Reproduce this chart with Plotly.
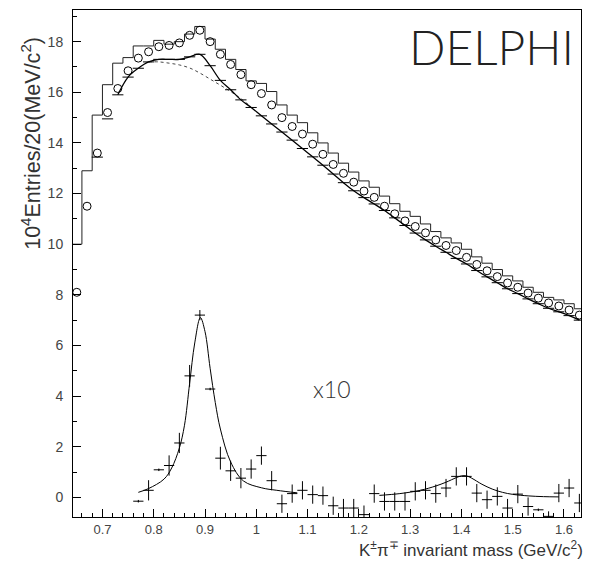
import numpy as np
import plotly.graph_objects as go

# ---------------- data ----------------
bin_centers = [0.65, 0.67, 0.69, 0.71, 0.73, 0.75, 0.77, 0.79, 0.81, 0.83,
               0.85, 0.87, 0.89, 0.91, 0.93, 0.95, 0.97, 0.99, 1.01, 1.03,
               1.05, 1.07, 1.09, 1.11, 1.13, 1.15, 1.17, 1.19, 1.21, 1.23,
               1.25, 1.27, 1.29, 1.31, 1.33, 1.35, 1.37, 1.39, 1.41, 1.43,
               1.45, 1.47, 1.49, 1.51, 1.53, 1.55, 1.57, 1.59, 1.61, 1.63]

data_circles = [8.1, 11.5, 13.6, 15.2, 16.15, 16.85, 17.35, 17.6, 17.8, 17.85,
                17.95, 18.25, 18.45, 18.0, 17.5, 17.1, 16.7, 16.3, 15.95, 15.5,
                15.0, 14.65, 14.35, 13.95, 13.55, 13.15, 12.8, 12.45, 12.1, 11.85,
                11.5, 11.2, 10.92, 10.7, 10.45, 10.17, 9.95, 9.75, 9.48, 9.2,
                8.95, 8.72, 8.47, 8.3, 8.07, 7.87, 7.68, 7.56, 7.4, 7.2]

mc_hist = [10.0, 12.9, 15.1, 16.3, 17.15, 17.37, 17.83, 17.83, 18.05, 17.9,
           18.0, 18.3, 18.6, 18.1, 17.7, 17.3, 16.9, 16.45, 16.35, 16.03,
           15.5, 15.1, 14.8, 14.4, 14.0, 13.6, 13.2, 12.85, 12.5, 12.25,
           11.9, 11.6, 11.3, 11.1, 10.8, 10.5, 10.25, 10.05, 9.8, 9.5,
           9.25, 9.0, 8.75, 8.55, 8.3, 8.1, 7.9, 7.8, 7.65, 7.45]

total_x = [0.69, 0.71, 0.73, 0.75, 0.77, 0.79, 0.81, 0.83, 0.85, 0.87,
           0.89, 0.91, 0.93, 0.95, 0.97, 0.99, 1.01, 1.03, 1.05, 1.07,
           1.09, 1.11, 1.13, 1.15, 1.17, 1.19, 1.21, 1.23, 1.25, 1.27,
           1.29, 1.31, 1.33, 1.35, 1.37, 1.39, 1.41, 1.43, 1.45, 1.47,
           1.49, 1.51, 1.53, 1.55, 1.57, 1.59, 1.61, 1.63]
total_y = [13.44, 14.95, 15.9, 16.6, 16.95, 17.2, 17.3, 17.3, 17.3, 17.4,
           17.5, 17.05, 16.47, 16.1, 15.7, 15.4, 15.07, 14.75, 14.43, 14.11,
           13.78, 13.45, 13.12, 12.77, 12.43, 12.11, 11.84, 11.59, 11.33, 11.04,
           10.74, 10.44, 10.17, 9.92, 9.68, 9.44, 9.22, 8.96, 8.71, 8.48,
           8.24, 8.05, 7.84, 7.65, 7.47, 7.33, 7.18, 7.0]

bkg_x = [0.79, 0.81, 0.83, 0.85, 0.87, 0.89, 0.91, 0.93, 0.95, 0.97, 0.99]
bkg_y = [17.2, 17.2, 17.15, 17.08, 16.96, 16.76, 16.52, 16.28, 16.03, 15.75, 15.42]

sig_x = [0.77, 0.79, 0.81, 0.83, 0.85, 0.87, 0.89, 0.91, 0.93, 0.95,
         0.97, 0.99, 1.01, 1.03, 1.05, 1.07, 1.09, 1.11, 1.13, 1.15,
         1.17, 1.19, 1.21, 1.23, 1.25, 1.27, 1.29, 1.31, 1.33, 1.35,
         1.37, 1.39, 1.41, 1.43, 1.45, 1.47, 1.49, 1.51, 1.53, 1.55,
         1.57, 1.59, 1.61, 1.63]
sig_y = [-0.15, 0.28, 1.09, 1.26, 2.15, 4.8, 7.2, 4.28, 1.55, 1.05,
         0.76, 1.12, 1.65, 0.66, -0.25, 0.15, 0.28, 0.11, 0.07, -0.33,
         -0.42, -0.42, -0.68, 0.15, -0.16, -0.16, -0.16, 0.24, 0.28, 0.15,
         0.37, 0.83, 0.83, 0.17, -0.09, 0.04, -0.42, 0.13, -0.36, -0.49,
         -0.75, 0.17, 0.37, -0.22]
sig_err = [0.05, 0.4, 0.05, 0.4, 0.4, 0.43, 0.2, 0.05, 0.45, 0.4,
           0.4, 0.38, 0.36, 0.38, 0.36, 0.36, 0.36, 0.36, 0.36, 0.36,
           0.36, 0.36, 0.36, 0.36, 0.36, 0.36, 0.36, 0.36, 0.36, 0.36,
           0.36, 0.36, 0.36, 0.36, 0.36, 0.36, 0.36, 0.36, 0.36, 0.05,
           0.2, 0.36, 0.36, 0.36]

bw1_x = [0.77, 0.79, 0.82, 0.835, 0.85, 0.86, 0.87, 0.88, 0.891, 0.90,
         0.91, 0.92, 0.93, 0.95, 0.975, 1.01, 1.04, 1.08]
bw1_y = [0.2, 0.35, 0.72, 1.16, 1.95, 2.85, 4.5, 6.1, 7.1, 6.55,
         5.1, 3.75, 2.7, 1.4, 0.65, 0.38, 0.28, 0.18]

bw2_x = [1.24, 1.28, 1.32, 1.35, 1.37, 1.39, 1.40, 1.41, 1.42, 1.44,
         1.46, 1.48, 1.50, 1.53, 1.56, 1.59]
bw2_y = [0.08, 0.15, 0.28, 0.45, 0.6, 0.78, 0.85, 0.85, 0.76, 0.52,
         0.33, 0.2, 0.12, 0.06, 0.03, 0.02]

x_ticks = [0.7, 0.8, 0.9, 1.0, 1.1, 1.2, 1.3, 1.4, 1.5, 1.6]
x_tick_labels = ["0.7", "0.8", "0.9", "1", "1.1", "1.2", "1.3", "1.4", "1.5", "1.6"]
y_ticks = [0, 2, 4, 6, 8, 10, 12, 14, 16, 18]

# ---------------- figure ----------------
fig = go.Figure()

# stepped histogram (bin edges derived from centres)
centers = np.array(bin_centers)
edges = np.append(centers - 0.01, centers[-1] + 0.01)
hist_vals = np.append(np.array(mc_hist), mc_hist[-1])
fig.add_trace(go.Scatter(x=edges, y=hist_vals, mode="lines", line_shape="hv",
                         line=dict(color="#222", width=1), hoverinfo="skip"))

# background (dashed)
fig.add_trace(go.Scatter(x=bkg_x, y=bkg_y, mode="lines",
                         line=dict(color="#333", width=0.9, dash="3px,3px"),
                         line_shape="spline"))

# total curve with tick marks
fig.add_trace(go.Scatter(x=total_x[2:], y=total_y[2:], mode="lines",
                         line=dict(color="black", width=1.3), line_shape="spline"))
fig.add_trace(go.Scatter(x=total_x, y=total_y, mode="markers",
                         marker=dict(symbol="line-ew", size=8,
                                     line=dict(color="black", width=1))))

# data circles
fig.add_trace(go.Scatter(x=bin_centers, y=data_circles, mode="markers",
                         marker=dict(symbol="circle-open", size=8,
                                     color="black", line=dict(width=1))))

# signal x10 crosses
fig.add_trace(go.Scatter(x=sig_x, y=sig_y, mode="markers",
                         marker=dict(size=1, color="black"),
                         error_x=dict(type="constant", value=0.01, width=0,
                                      color="black", thickness=1),
                         error_y=dict(type="data", array=sig_err, width=0,
                                      color="black", thickness=1)))

# fitted resonance curves
fig.add_trace(go.Scatter(x=bw1_x, y=bw1_y, mode="lines", line_shape="spline",
                         line=dict(color="black", width=1)))
fig.add_trace(go.Scatter(x=bw2_x, y=bw2_y, mode="lines", line_shape="spline",
                         line=dict(color="black", width=1)))

axis_common = dict(showline=True, linecolor="black", linewidth=1, mirror=True,
                   showgrid=False, zeroline=False, ticks="inside",
                   tickcolor="black", tickwidth=1)

fig.update_layout(
    width=591, height=563,
    margin=dict(l=73, r=10, t=10, b=46),
    paper_bgcolor="white", plot_bgcolor="white",
    showlegend=False,
    font=dict(family="Liberation Sans, Arial, sans-serif", color="#333"),
    xaxis=dict(range=[0.6426, 1.6332], tickvals=x_ticks, ticktext=x_tick_labels,
               ticklen=8, tickfont=dict(size=13, color="#444"),
               minor=dict(dtick=0.02, tick0=0.64, ticks="inside", ticklen=4,
                          tickcolor="black"),
               **axis_common),
    yaxis=dict(range=[-0.774, 19.25], tickvals=y_ticks,
               ticklen=8, tickfont=dict(size=14, color="#444"),
               ticklabelstandoff=6,
               minor=dict(dtick=1, tick0=0, ticks="inside", ticklen=4,
                          tickcolor="black"),
               **axis_common),
)

fig.add_annotation(x=1.458, y=17.8, xref="x", yref="y", text="DELPHI",
                   showarrow=False, xanchor="center", yanchor="middle",
                   font=dict(family="Lato, Liberation Sans", size=48,
                             color="#222", weight=300))
fig.add_annotation(x=1.147, y=4.29, xref="x", yref="y", text="x10",
                   showarrow=False, xanchor="center", yanchor="middle",
                   font=dict(family="Lato, Liberation Sans", size=23,
                             color="#333", weight=300))
fig.add_annotation(x=1.008, y=-0.0625, xref="paper", yref="paper",
                   text="K<sup>±</sup>π<sup>∓</sup> invariant mass (GeV/c<sup>2</sup>)",
                   showarrow=False, xanchor="right", yanchor="middle",
                   font=dict(size=17, color="#333"))
fig.add_annotation(x=-0.0827, y=0.738, xref="paper", yref="paper",
                   text="10<sup>4</sup>Entries/20(MeV/c<sup>2</sup>)",
                   textangle=-90, showarrow=False, xanchor="center", yanchor="middle",
                   font=dict(size=21.5, color="#333"))

fig.write_html("out.html", config={"displayModeBar": False},
               post_script="document.body.style.margin='0';document.body.style.padding='0';")
